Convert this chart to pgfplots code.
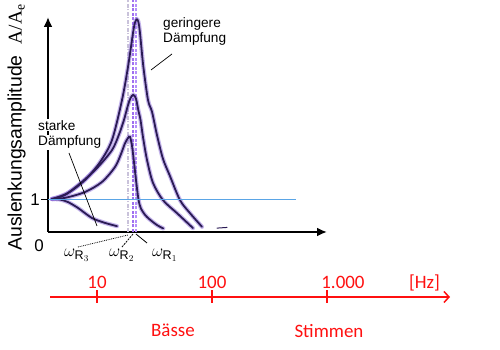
\documentclass[border=0pt]{standalone}
\usepackage{pgfplots}
\pgfplotsset{compat=1.18}
\usepackage{fontspec}
\setmainfont{Liberation Sans}
\newfontfamily\seriffont{Liberation Serif}
\newfontfamily\redfont{Carlito}
\usetikzlibrary{arrows.meta}
\definecolor{core}{HTML}{2B1B55}
\definecolor{halo}{HTML}{8A6AD8}
\definecolor{oneline}{HTML}{5AA5E6}
\definecolor{vlA}{HTML}{C9C2DA}
\definecolor{vlB}{HTML}{A070F0}
\definecolor{vlC}{HTML}{B590FA}
\definecolor{hzred}{HTML}{FF1010}
\begin{document}
\begin{tikzpicture}
\useasboundingbox (0,0) rectangle (500bp,350bp);
\begin{axis}[
  at={(48bp,118bp)}, anchor=south west,
  scale only axis, width=279bp, height=215bp,
  xmin=48, xmax=327, ymin=0, ymax=6.615,
  axis lines=left,
  axis line style={line width=2.4bp, -{Latex[length=10bp,width=9bp]}},
  xtick=\empty, ytick={1},
  tick style={line width=1.2bp, black},
  major tick length=7bp, tick align=outside,
  /pgf/number format/assume math mode=true,
  yticklabel style={font=\fontsize{17}{17}\selectfont, inner sep=1bp},
  clip=false,
  halo/.style={line width=4.2bp, color=halo, opacity=0.5, smooth, line cap=round},
  core/.style={line width=1.8bp, color=core, smooth, line cap=round},
]
% vertical resonance lines
\addplot[vlA, line width=1.3bp, dash pattern=on 4bp off 1.5bp on 1bp off 1.5bp] coordinates {(128,0) (128,7.14)};
\addplot[vlB, line width=1.3bp, dash pattern=on 3bp off 1.5bp] coordinates {(133,0) (133,7.14)};
\addplot[vlC, line width=1.3bp, dash pattern=on 3bp off 1.5bp] coordinates {(136,0) (136,7.14)};
% curves: halo
\addplot[halo] coordinates {(52,1.015)(68,1.2)(85,1.6)(100,2.15)(112,2.83)(122,4.06)(128,5.08)(133,6.12)(135,6.45)(137,6.54)(138.5,6.45)(140,6.12)(143.3,5.1)(148,4.06)(152,3.7)(157,2.98)(163,2.25)(170,1.72)(180,0.98)(190,0.58)(202,0.16)};
\addplot[halo] coordinates {(52,1.015)(65,1.14)(82,1.54)(98,2.0)(112,2.52)(119,3.0)(124,3.45)(127.5,3.85)(130.5,4.12)(133.3,4.22)(136,4.1)(138.3,3.75)(140.5,3.45)(143,2.92)(147,2.22)(153,1.51)(163,0.98)(177,0.58)(193,0.12)};
\addplot[halo] coordinates {(52,1.015)(65,1.05)(85,1.23)(102,1.54)(115,2.0)(121,2.4)(125,2.73)(128,2.89)(130,2.93)(132,2.65)(134,2.15)(136,1.6)(138.5,1.0)(141,0.72)(146.7,0.47)(156.7,0.22)(163.3,0.11)};
\addplot[halo] coordinates {(52,1.015)(60,1.0)(68,0.92)(78,0.74)(92,0.43)(105,0.28)(117,0.18)};
% curves: core
\addplot[core] coordinates {(52,1.015)(68,1.2)(85,1.6)(100,2.15)(112,2.83)(122,4.06)(128,5.08)(133,6.12)(135,6.45)(137,6.54)(138.5,6.45)(140,6.12)(143.3,5.1)(148,4.06)(152,3.7)(157,2.98)(163,2.25)(170,1.72)(180,0.98)(190,0.58)(202,0.16)};
\addplot[core] coordinates {(52,1.015)(65,1.14)(82,1.54)(98,2.0)(112,2.52)(119,3.0)(124,3.45)(127.5,3.85)(130.5,4.12)(133.3,4.22)(136,4.1)(138.3,3.75)(140.5,3.45)(143,2.92)(147,2.22)(153,1.51)(163,0.98)(177,0.58)(193,0.12)};
\addplot[core] coordinates {(52,1.015)(65,1.05)(85,1.23)(102,1.54)(115,2.0)(121,2.4)(125,2.73)(128,2.89)(130,2.93)(132,2.65)(134,2.15)(136,1.6)(138.5,1.0)(141,0.72)(146.7,0.47)(156.7,0.22)(163.3,0.11)};
\addplot[core] coordinates {(52,1.015)(60,1.0)(68,0.92)(78,0.74)(92,0.43)(105,0.28)(117,0.18)};
\addplot[core, line width=1bp] coordinates {(217,0.12)(227,0.14)};
% reference line A/Ae = 1
\addplot[oneline, line width=0.9bp] coordinates {(48,1) (296,1)};
% zero label
\node[anchor=base, inner sep=0, font=\fontsize{17}{17}\selectfont] at (axis cs:39,-0.585) {0};
% y label
\node[rotate=90, anchor=base, inner sep=0, font=\fontsize{19.5}{20}\selectfont] at (axis cs:21.5,3.215) {Auslenkungsamplitude\ \ {\seriffont A/A\textsubscript{e}}};
% annotations
\node[anchor=base west, inner sep=0, font=\fontsize{13.7}{15}\selectfont] at (axis cs:163,6.292) {geringere};
\node[anchor=base west, inner sep=0, font=\fontsize{13.7}{15}\selectfont] at (axis cs:163,5.831) {Dämpfung};
\draw[line width=0.7bp] (axis cs:172,5.477) -- (axis cs:151,4.985);
\node[anchor=base west, inner sep=1bp, fill=white, font=\fontsize{13.7}{15}\selectfont] at (axis cs:37,3.138) {starke};
\node[anchor=base west, inner sep=1bp, fill=white, font=\fontsize{13.7}{15}\selectfont] at (axis cs:37,2.646) {Dämpfung};
\draw[line width=0.7bp] (axis cs:69,2.431) -- (axis cs:97,0.185);
% omega labels
\node[anchor=base west, inner sep=0, font=\fontsize{18}{18}\selectfont] at (axis cs:64,-0.769) {$\omega_{\mathrm{R}_3}$};
\node[anchor=base west, inner sep=0, font=\fontsize{18}{18}\selectfont] at (axis cs:109,-0.769) {$\omega_{\mathrm{R}_2}$};
\node[anchor=base west, inner sep=0, font=\fontsize{18}{18}\selectfont] at (axis cs:152,-0.769) {$\omega_{\mathrm{R}_1}$};
\draw[line width=0.8bp, dash pattern=on 0.8bp off 1bp] (axis cs:78,-0.462) -- (axis cs:128,-0.092);
\draw[line width=0.8bp, dash pattern=on 2bp off 1bp] (axis cs:122,-0.462) -- (axis cs:133,-0.062);
\draw[line width=0.8bp] (axis cs:147,-0.338) -- (axis cs:136,-0.062);
\end{axis}
\begin{axis}[
  at={(50bp,53bp)}, anchor=north west,
  scale only axis, width=400bp, height=10bp,
  xmode=log, xmin=3.903, xmax=11742, ymin=-10, ymax=0,
  axis x line=top, axis y line=none,
  x axis line style={hzred, line width=1.5bp, -{Straight Barb[length=5bp,width=11bp,line width=1.5bp]}},
  xtick={10,100,1000}, xticklabels={,,},
  xminorticks=false,
  tick align=center, major tick length=13bp,
  xtick style={hzred, line width=1.5bp},
  clip=false,
]
\node[anchor=base, inner sep=0, text=hzred, font=\redfont\fontsize{19}{19}\selectfont] at (axis cs:10,8) {10};
\node[anchor=base, inner sep=0, text=hzred, font=\redfont\fontsize{19}{19}\selectfont] at (axis cs:100,8) {100};
\node[anchor=base, inner sep=0, text=hzred, font=\redfont\fontsize{19}{19}\selectfont] at (axis cs:1377,8) {1.000};
\node[anchor=base, inner sep=0, text=hzred, font=\redfont\fontsize{19}{19}\selectfont] at (axis cs:7047,8) {[Hz]};
\node[anchor=base, inner sep=0, text=hzred, font=\redfont\fontsize{19}{19}\selectfont] at (axis cs:45.8,-40) {Bässe};
\node[anchor=base, inner sep=0, text=hzred, font=\redfont\fontsize{19}{19}\selectfont] at (axis cs:1040,-41) {Stimmen};
\end{axis}
\end{tikzpicture}
\end{document}
